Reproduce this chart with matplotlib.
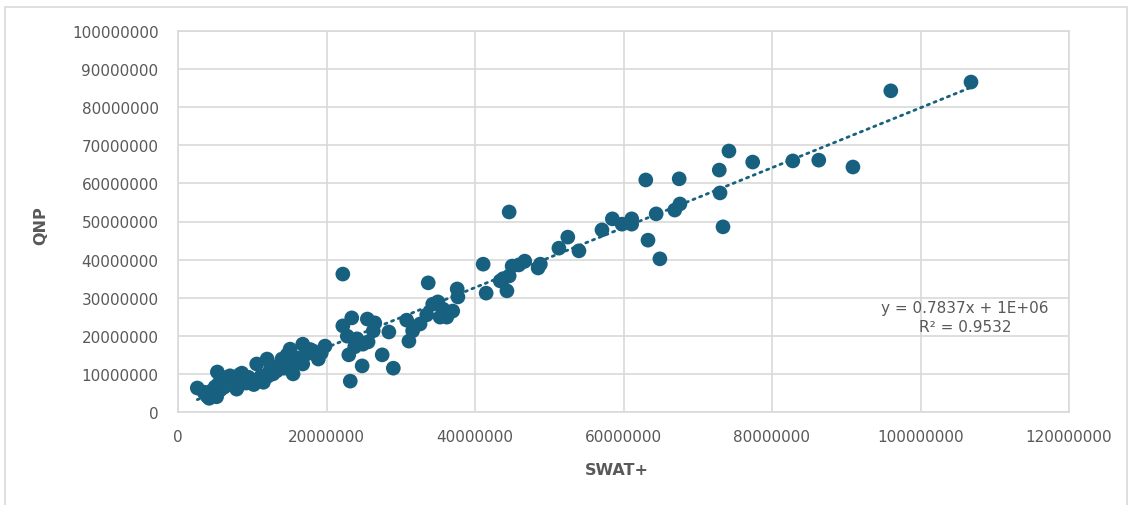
import matplotlib.pyplot as plt
import numpy as np
from matplotlib.ticker import FuncFormatter, MultipleLocator
from matplotlib.patches import Rectangle

# valores en millones
SCALE = 1e6
swat = [2.6, 3.5, 3.9, 4.2, 4.5, 4.8, 5.0, 5.2, 5.3, 5.5, 5.7, 6.0, 6.2, 6.5, 6.8,
        7.0, 7.3, 7.6, 7.9, 8.1, 8.3, 8.6, 8.9, 9.2, 9.5, 9.8, 10.2, 10.6, 10.8, 11.2,
        11.5, 12.0, 12.1, 12.4, 12.8, 13.3, 13.6, 14.0, 14.3, 14.7, 15.1, 15.5, 15.8,
        16.3, 16.8, 16.8, 17.3, 17.8, 18.2, 18.9, 19.3, 19.8,
        22.2, 33.7, 23.4, 22.2, 25.5, 26.5, 26.3, 22.8, 24.1, 24.9, 25.6, 23.8, 23.0,
        27.5, 24.8, 29.0, 23.2, 28.4, 30.8, 31.6, 31.1, 32.6, 33.5, 34.3, 35.0, 35.7,
        35.3, 36.2, 37.0, 37.6, 37.7,
        41.1, 41.5, 43.4, 43.8, 44.3, 44.6, 44.6, 45.0, 45.9, 46.7, 48.5, 48.8,
        51.3, 52.5, 54.0, 57.1, 58.5, 59.8, 61.1, 61.1,
        63.0, 63.3, 64.4, 64.9, 66.9, 67.6, 67.5, 72.9, 73.0, 73.4, 74.2, 77.4, 82.8,
        86.3, 90.9, 96.0, 106.8]
qnp = [6.3, 5.2, 4.2, 3.6, 5.5, 4.6, 6.6, 4.0, 10.5, 7.5, 5.8, 8.2, 6.5, 9.0, 7.8,
       9.5, 8.6, 7.2, 6.0, 6.8, 9.8, 10.2, 8.5, 7.6, 9.1, 8.0, 7.2, 12.6, 8.6, 9.4,
       7.8, 13.9, 9.4, 11.0, 10.0, 10.8, 12.2, 13.9, 11.5, 15.0, 16.5, 10.0, 13.0,
       14.2, 17.8, 12.6, 15.2, 16.4, 16.0, 13.9, 15.5, 17.3,
       36.2, 33.9, 24.7, 22.6, 24.4, 23.4, 21.3, 19.9, 19.2, 17.8, 18.4, 17.1, 15.0,
       15.0, 12.1, 11.5, 8.1, 21.0, 24.1, 21.3, 18.6, 23.1, 25.5, 28.3, 28.9, 27.0,
       24.9, 24.9, 26.5, 32.3, 30.2,
       38.8, 31.2, 34.4, 35.0, 31.8, 35.7, 52.5, 38.3, 38.6, 39.6, 37.8, 38.8,
       43.0, 45.9, 42.3, 47.8, 50.7, 49.3, 49.3, 50.7,
       60.9, 45.1, 52.0, 40.2, 53.0, 54.6, 61.2, 63.5, 57.5, 48.6, 68.5, 65.6, 65.9,
       66.1, 64.3, 84.3, 86.6]

x = np.array(swat) * SCALE
y = np.array(qnp) * SCALE

azul = '#18607f'
gris = '#595959'
linea = '#d9d9d9'

fig = plt.figure(figsize=(11.31, 5.06), dpi=100)
ax = fig.add_axes([178/1131, 1-413/506, (1069-178)/1131, (413-32)/506])

# borde exterior del gráfico
fig.patches.append(Rectangle((5/1131, -0.1), 1122/1131, 1.1 - 8/506,
                             transform=fig.transFigure, fill=False,
                             edgecolor=linea, lw=1.2))

ax.scatter(x, y, s=112, color=azul, edgecolors='none', zorder=3)

# línea de tendencia lineal
m, b = np.polyfit(x, y, 1)
xs = np.array([x.min(), x.max()])
ax.plot(xs, m*xs + b, color=azul, lw=2.0, linestyle=(0, (0.8, 1.8)),
        dash_capstyle='round', zorder=2)

ax.set_xlim(0, 120e6)
ax.set_ylim(0, 100e6)
ax.xaxis.set_major_locator(MultipleLocator(20e6))
ax.yaxis.set_major_locator(MultipleLocator(10e6))
fmt = FuncFormatter(lambda v, p: f"{int(round(v))}")
ax.xaxis.set_major_formatter(fmt)
ax.yaxis.set_major_formatter(fmt)

ax.grid(True, color=linea, lw=1.2)
ax.set_axisbelow(True)
for s in ax.spines.values():
    s.set_color(linea)
    s.set_linewidth(1.2)
ax.tick_params(length=0, labelsize=11, labelcolor=gris)
ax.tick_params(axis='y', pad=14)
ax.tick_params(axis='x', pad=12)

ax.set_xlabel('SWAT+', fontsize=11.5, fontweight='bold', color=gris)
ax.set_ylabel('QNP', fontsize=11.5, fontweight='bold', color=gris)
ax.xaxis.set_label_coords(0.493, -0.13)
ax.yaxis.set_label_coords(-0.146, 0.493)

ax.text(0.883, 0.25, 'y = 0.7837x + 1E+06\nR² = 0.9532', transform=ax.transAxes,
        ha='center', va='center', fontsize=11, color=gris, linespacing=1.3)

fig.savefig('out.png', dpi=100)
